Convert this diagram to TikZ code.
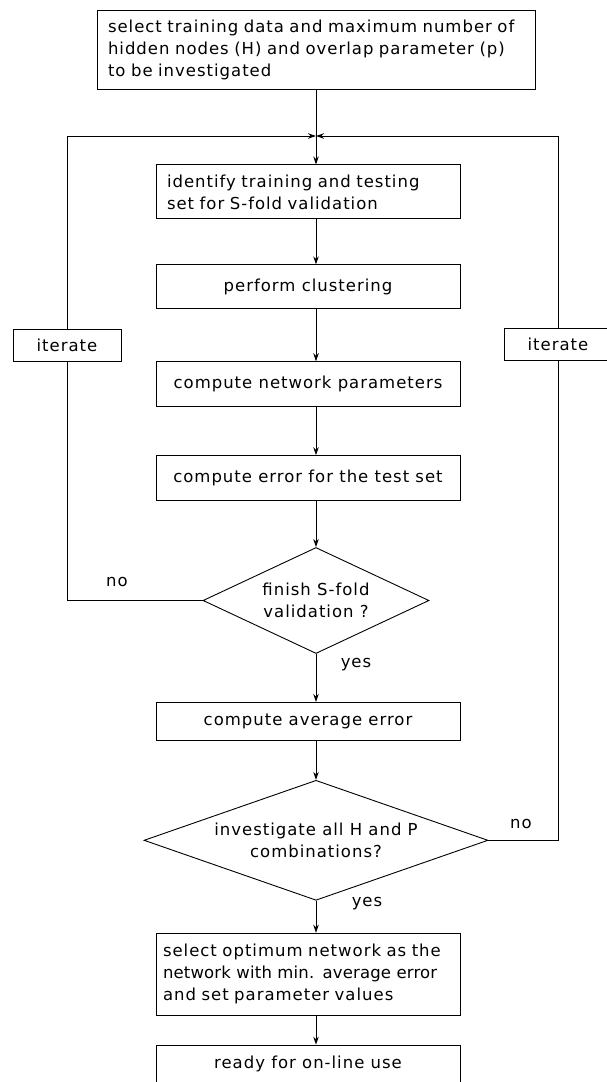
\documentclass[tikz,border=0pt]{standalone}
\usepackage{fontspec}
\setmainfont{DejaVu Sans}[LetterSpace=6]
\usetikzlibrary{shapes.geometric,arrows.meta,positioning,calc}

\begin{document}
\begin{tikzpicture}[
    x=1pt, y=-1pt,
    font=\fontsize{16.5}{22}\selectfont,
    line width=0.9pt,
    box/.style={rectangle, draw, minimum width=304pt, inner xsep=11pt, inner ysep=0pt},
    leftbox/.style={box, text width=282pt, align=left},
    decision/.style={diamond, draw, inner sep=0pt, align=center},
    loopbox/.style={rectangle, draw, fill=white, minimum width=108pt, minimum height=32pt, inner sep=0pt},
    lbl/.style={inner sep=0pt},
    arrow/.style={-{Stealth[length=8pt,width=5.5pt]}}
]
\useasboundingbox (0,0) rectangle (607,1082);

% Start
\node[box, minimum width=438pt, minimum height=79pt, text width=416pt, align=left] (sel-data) at (316,49.5) {select training data and maximum number of\\hidden nodes (H) and overlap parameter (p)\\to be investigated};
\coordinate (join) at (316,136);

% S-fold loop
\node[leftbox, minimum height=54pt, below=75pt of sel-data, xshift=-8pt] (id-sets) {identify training and testing\\set for S-fold validation};
\node[box, minimum height=44pt, below=45pt of id-sets] (clust) {perform clustering};
\node[box, minimum height=45pt, below=52pt of clust] (net-par) {compute network parameters};
\node[box, minimum height=45pt, below=48pt of net-par] (test-err) {compute error for the test set};
\node[decision, aspect=2.13, minimum width=226pt, minimum height=106pt, below=46pt of test-err, xshift=8pt] (fold-q) {finish S-fold\\validation ?};

% H and p loop
\node[box, minimum height=38pt, below=48pt of fold-q, xshift=-8pt] (avg-err) {compute average error};
\node[decision, aspect=2.87, minimum width=344pt, minimum height=120pt, below=39pt of avg-err, xshift=8pt] (comb-q) {investigate all H and P\\combinations?};

% End
\node[leftbox, minimum height=82pt, below=32pt of comb-q, xshift=-8pt, inner xsep=7pt, text width=290pt] (opt-net) {select optimum network as the\\{\addfontfeature{LetterSpace=1}network with min. average error}\\and set parameter values};
\node[box, minimum height=37pt, below=29pt of opt-net] (ready) {ready for on-line use};

% Iterate boxes
\node[loopbox] (iter-l) at (67,345) {iterate};
\node[loopbox] (iter-r) at (558,344) {iterate};

% Main flow
\draw[arrow] (sel-data.south) -- (sel-data.south |- id-sets.north);
\draw[arrow] (id-sets.south -| join) -- (clust.north -| join);
\draw[arrow] (clust.south -| join) -- (net-par.north -| join);
\draw[arrow] (net-par.south -| join) -- (test-err.north -| join);
\draw[arrow] (test-err.south -| join) -- (fold-q.north);
\draw[arrow] (fold-q.south) -- (fold-q.south |- avg-err.north);
\draw[arrow] (avg-err.south -| join) -- (comb-q.north);
\draw[arrow] (comb-q.south) -- (comb-q.south |- opt-net.north);
\draw[arrow] (opt-net.south -| join) -- (ready.north -| join);

% Loops back
\draw (fold-q.west) -| (iter-l.south);
\draw[arrow] (iter-l.north) |- (join);
\draw (comb-q.east) -| (iter-r.south);
\draw[arrow] (iter-r.north) |- (join);

% Labels
\node[lbl] at (117,582) {no};
\node[lbl] at (356,665) {yes};
\node[lbl] at (521,824) {no};
\node[lbl] at (367,904) {yes};

\end{tikzpicture}
\end{document}
